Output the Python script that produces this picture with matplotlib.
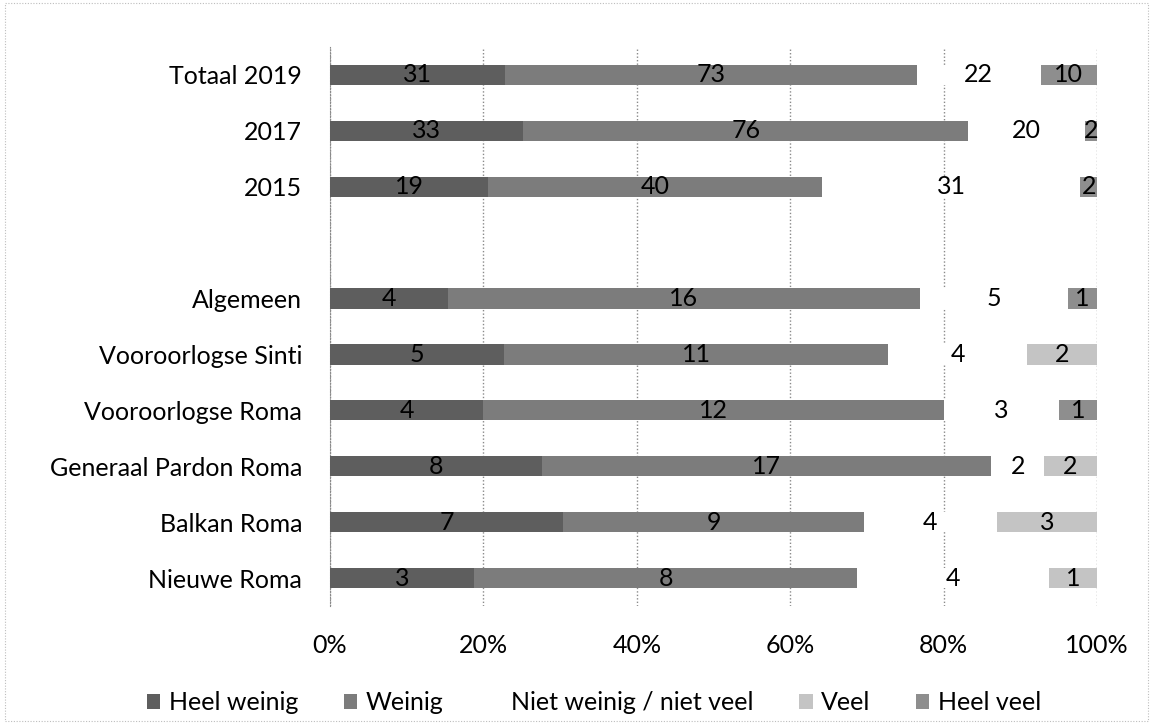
import matplotlib
matplotlib.use("Agg")
import matplotlib.pyplot as plt
import numpy as np
from matplotlib.patches import Rectangle

categories = ["Totaal 2019", "2017", "2015", "", "Algemeen", "Vooroorlogse Sinti",
              "Vooroorlogse Roma", "Generaal Pardon Roma", "Balkan Roma", "Nieuwe Roma"]
heel_weinig = [31, 33, 19, 0, 4, 5, 4, 8, 7, 3]
weinig      = [73, 76, 40, 0, 16, 11, 12, 17, 9, 8]
neutraal    = [22, 20, 31, 0, 5, 4, 3, 2, 4, 4]
veel        = [0, 0, 0, 0, 0, 2, 0, 2, 3, 1]
heel_veel   = [10, 2, 2, 0, 1, 0, 1, 0, 0, 0]
series_names = ["Heel weinig", "Weinig", "Niet weinig / niet veel", "Veel", "Heel veel"]
x_ticks = [0, 20, 40, 60, 80, 100]
x_ticklabels = ["0%", "20%", "40%", "60%", "80%", "100%"]

colors = ["#5e5e5e", "#7c7c7c", "#ffffff", "#c4c4c4", "#8e8e8e"]

plt.rcParams['font.family'] = ['Lato', 'DejaVu Sans']
FS = 18

fig = plt.figure(figsize=(11.53, 7.23), dpi=100)
ax = fig.add_axes([330/1153, 1-606/723, (1097-330)/1153, (606-47)/723])

data = np.array([heel_weinig, weinig, neutraal, veel, heel_veel], dtype=float)
totals = data.sum(axis=0)
totals[totals == 0] = 1
pct = data / totals * 100
y = np.arange(len(categories))
left = np.zeros(len(categories))
for i, name in enumerate(series_names):
    ax.barh(y, pct[i], left=left, height=0.36, color=colors[i], label=name,
            edgecolor='none', zorder=3)
    for j in range(len(categories)):
        if data[i, j] > 0:
            ax.text(left[j] + pct[i, j] / 2, y[j], f"{int(data[i, j])}",
                    ha='center', va='center', fontsize=FS, color='black', zorder=4)
    left += pct[i]

ax.set_xlim(0, 100)
ax.set_ylim(len(categories) - 0.5, -0.5)
ax.set_yticks(y)
ax.set_yticklabels(categories, fontsize=FS)
ax.set_xticks(x_ticks)
ax.set_xticklabels(x_ticklabels, fontsize=FS)
ax.tick_params(axis='both', length=0)
ax.tick_params(axis='y', pad=20)
ax.tick_params(axis='x', pad=20)
ax.xaxis.grid(True, color='#8a8a8a', linestyle=(0, (1, 1.5)), linewidth=1, zorder=0)
for s in ['top', 'right', 'bottom']:
    ax.spines[s].set_visible(False)
ax.spines['left'].set_color('#8a8a8a')
ax.spines['left'].set_linestyle((0, (1, 1.5)))

handles, labels = ax.get_legend_handles_labels()
leg = fig.legend(handles, labels, loc='center', bbox_to_anchor=(594/1153, 1-703/723),
                 ncol=5, frameon=False, fontsize=FS, handlelength=0.55, handleheight=0.55,
                 handletextpad=0.35, columnspacing=1.8, borderpad=0)

fig.patches.append(Rectangle((0.004, 0.003), 0.992, 0.993, transform=fig.transFigure,
                             fill=False, edgecolor='#bdbdbd', linestyle=(0, (1, 1.5)),
                             linewidth=0.8))

fig.savefig("out.png", dpi=100)
